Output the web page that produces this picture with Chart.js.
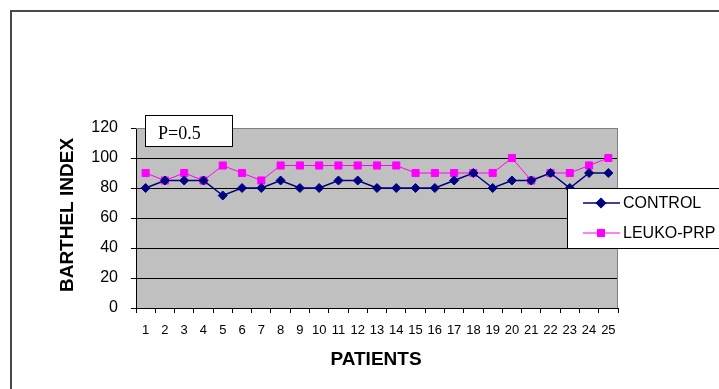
<!DOCTYPE html>
<html><head><meta charset="utf-8">
<script src="https://cdn.jsdelivr.net/npm/chart.js@4/dist/chart.umd.min.js"></script>
<style>html,body{margin:0;padding:0;background:#fff;}#wrap{width:719px;height:389px;position:relative}</style>
</head><body><div id="wrap"><canvas id="c" width="719" height="389"></canvas></div>
<script>
const patients = ['1','2','3','4','5','6','7','8','9','10','11','12','13','14','15','16','17','18','19','20','21','22','23','24','25'];
const control  = [80,85,85,85,75,80,80,85,80,80,85,85,80,80,80,80,85,90,80,85,85,90,80,90,90];
const leukoPrp = [90,85,90,85,95,90,85,95,95,95,95,95,95,95,90,90,90,90,90,100,85,90,90,95,100];
const yTicks = [0,20,40,60,80,100,120];
const seriesNames = ['CONTROL','LEUKO-PRP'];
const pValueText = 'P=0.5';
const xTitle = 'PATIENTS';
const yTitle = 'BARTHEL INDEX';

const NAVY = '#000080', MAG = '#ff00ff';
const sans = '"Liberation Sans", Arial, sans-serif';

const decor = {
  id: 'decor',
  beforeDraw(chart) {
    const {ctx, chartArea: a} = chart;
    ctx.save();
    ctx.fillStyle = '#ffffff';
    ctx.fillRect(0, 0, chart.width, chart.height);
    ctx.fillStyle = '#c0c0c0';
    ctx.fillRect(a.left, a.top, a.right - a.left, a.bottom - a.top);
    ctx.restore();
  },
  beforeDatasetsDraw(chart) {
    const {ctx, chartArea: a} = chart;
    ctx.save();
    ctx.strokeStyle = '#808080';
    ctx.lineWidth = 1;
    ctx.beginPath();
    ctx.moveTo(a.left, a.top + 0.5); ctx.lineTo(a.right - 0.5, a.top + 0.5); ctx.lineTo(a.right - 0.5, a.bottom);
    ctx.stroke();
    ctx.restore();
  },
  afterDraw(chart) {
    const {ctx} = chart;
    ctx.save();
    ctx.strokeStyle = '#4a4a4a';
    ctx.lineWidth = 2;
    ctx.beginPath();
    ctx.moveTo(11, 389); ctx.lineTo(11, 11); ctx.lineTo(719, 11);
    ctx.stroke();
    ctx.fillStyle = '#000';
    ctx.font = 'bold 19px ' + sans;
    ctx.textAlign = 'center'; ctx.textBaseline = 'middle';
    ctx.fillText(xTitle, 376, 360);
    ctx.save();
    ctx.translate(68, 215);
    ctx.rotate(-Math.PI / 2);
    ctx.fillText(yTitle, 0, 0);
    ctx.restore();
    ctx.fillStyle = '#fff';
    ctx.fillRect(145.5, 115.5, 87, 31);
    ctx.strokeStyle = '#000'; ctx.lineWidth = 1;
    ctx.strokeRect(145.5, 115.5, 87, 31);
    ctx.fillStyle = '#000';
    ctx.font = '18px "Liberation Serif", "Times New Roman", serif';
    ctx.textAlign = 'left'; ctx.textBaseline = 'alphabetic';
    ctx.fillText(pValueText, 158, 138.5);
    ctx.fillStyle = '#fff';
    ctx.fillRect(567.5, 188.5, 160, 60);
    ctx.strokeStyle = '#000';
    ctx.strokeRect(567.5, 188.5, 160, 60);
    const items = [
      {name: seriesNames[0], color: NAVY, y: 203, style: 'rectRot', r: 4.5, lw: 1.5},
      {name: seriesNames[1], color: MAG, y: 233, style: 'rect', r: 5, lw: 1}
    ];
    ctx.font = '16px ' + sans;
    ctx.textBaseline = 'middle';
    for (const it of items) {
      ctx.strokeStyle = it.color; ctx.lineWidth = it.lw;
      ctx.beginPath(); ctx.moveTo(583, it.y); ctx.lineTo(620, it.y); ctx.stroke();
      ctx.fillStyle = it.color;
      Chart.helpers.drawPoint(ctx, {pointStyle: it.style, radius: it.r, borderWidth: 1}, 601, it.y);
      ctx.fill();
      ctx.fillStyle = '#000';
      ctx.fillText(it.name, 623, it.y + 1);
    }
    ctx.restore();
  }
};

new Chart(document.getElementById('c'), {
  type: 'line',
  data: {
    labels: patients,
    datasets: [
      {label: seriesNames[0], data: control, borderColor: NAVY, backgroundColor: NAVY,
       borderWidth: 1.5, pointStyle: 'rectRot', pointRadius: 4.5, pointBorderWidth: 1, tension: 0},
      {label: seriesNames[1], data: leukoPrp, borderColor: MAG, backgroundColor: MAG,
       borderWidth: 1, pointStyle: 'rect', pointRadius: 5, pointBorderWidth: 1, tension: 0}
    ]
  },
  options: {
    responsive: false,
    animation: false,
    devicePixelRatio: 1,
    layout: {padding: {left: 0, top: 128, right: 101, bottom: 0}},
    plugins: {legend: {display: false}, tooltip: {enabled: false}},
    scales: {
      x: {
        type: 'category',
        offset: true,
        grid: {offset: true, drawOnChartArea: false, drawTicks: true, tickLength: 5, color: '#000', lineWidth: 1},
        border: {display: true, color: '#000', width: 1},
        ticks: {color: '#000', font: {family: sans, size: 13}, autoSkip: false, maxRotation: 0, minRotation: 0, padding: 10},
        afterFit(s) { s.height = 81; }
      },
      y: {
        min: 0, max: 120,
        afterBuildTicks(s) { s.ticks = yTicks.map(v => ({value: v})); },
        grid: {color: ctx => (ctx.tick && ctx.tick.value === 120 ? '#808080' : '#000'), tickColor: '#000', tickLength: 5, lineWidth: 1},
        border: {display: true, color: '#000', width: 1},
        ticks: {color: '#000', font: {family: sans, size: 16}, padding: 13},
        afterFit(s) { s.width = 136; }
      }
    }
  },
  plugins: [decor]
});
</script></body></html>
